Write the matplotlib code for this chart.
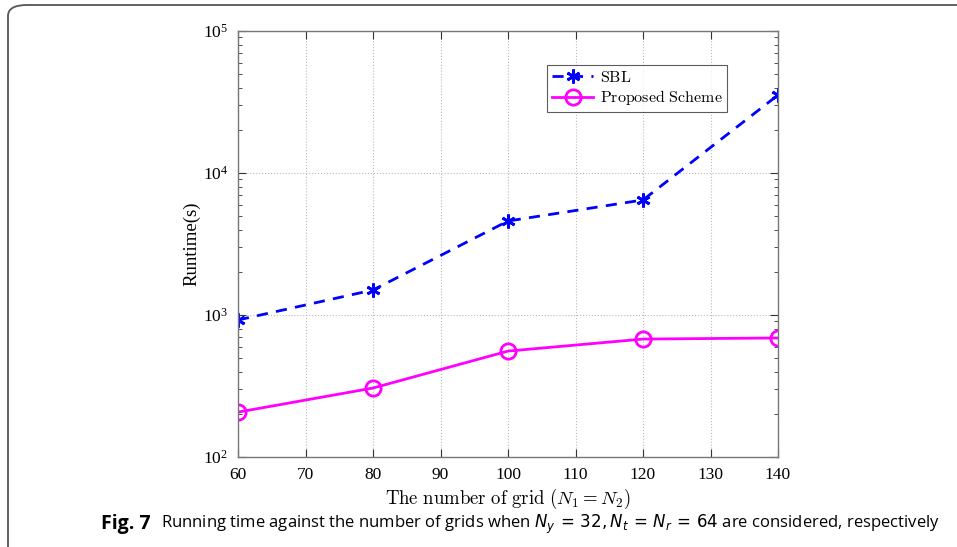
import matplotlib
matplotlib.use('Agg')
import matplotlib.pyplot as plt
import matplotlib.font_manager as fm
from matplotlib.patches import FancyBboxPatch
from matplotlib.ticker import LogLocator, NullFormatter

# 데이터
grid_sizes = [60, 80, 100, 120, 140]
runtime_sbl = [922, 1500, 4590, 6460, 35400]
runtime_proposed = [207, 306, 557, 677, 689]

plt.rcParams['font.family'] = ['Liberation Serif', 'DejaVu Serif']
plt.rcParams['mathtext.fontset'] = 'stix'

# 캡션용 좁은 산세리프 폰트
names = {f.name for f in fm.fontManager.ttflist}
if 'Liberation Sans Narrow' in names:
    cap_family, cap_size = ['Liberation Sans Narrow', 'DejaVu Sans'], 15
else:
    cap_family, cap_size = ['Open Sans', 'DejaVu Sans'], 12

fig = plt.figure(figsize=(9.57, 5.47), dpi=100)

# 둥근 외곽 프레임 (오른쪽/아래는 잘림)
frame = FancyBboxPatch((8 / 957, -20 / 547), 1.05, 1 - 5 / 547 + 20 / 547,
                       boxstyle='round,pad=0,rounding_size=0.02',
                       transform=fig.transFigure, fill=False,
                       edgecolor='#555555', linewidth=1.3, clip_on=False)
fig.patches.append(frame)

ax = fig.add_axes([238 / 957, 1 - 457 / 547, 540 / 957, 426 / 547])
ax.plot(grid_sizes, runtime_sbl, color='blue', linestyle='--', linewidth=2,
        dashes=(4, 3), marker=(6, 2, 0), markersize=10, markeredgewidth=2,
        label=r'$\mathrm{SBL}$')
ax.plot(grid_sizes, runtime_proposed, color='#FF00FF', linestyle='-', linewidth=2,
        marker='o', markersize=11, markerfacecolor='none', markeredgewidth=2,
        label=r'$\mathrm{Proposed\ Scheme}$')

ax.set_yscale('log')
ax.set_xlim(60, 140)
ax.set_ylim(1e2, 1e5)
ax.set_xticks(range(60, 141, 10))
ax.yaxis.set_major_locator(LogLocator(base=10, numticks=10))
ax.yaxis.set_minor_locator(LogLocator(base=10, subs=range(2, 10), numticks=20))
ax.yaxis.set_minor_formatter(NullFormatter())

ax.grid(True, which='major', linestyle=':', color='#bbbbbb', linewidth=0.8)
ax.tick_params(which='both', direction='in', top=True, right=True,
               labelsize=12.5, colors='#333333', labelcolor='black')
ax.tick_params(which='major', length=6)
ax.tick_params(which='minor', length=3)
ax.tick_params(axis='x', pad=7)
ax.tick_params(axis='y', pad=7)
for s in ax.spines.values():
    s.set_color('#777777')
    s.set_linewidth(1.0)

ax.set_xlabel(r'$\mathrm{The\ number\ of\ grid}\ (N_1 = N_2)$', fontsize=13.5,
              labelpad=3, math_fontfamily='cm')
ax.set_ylabel('Runtime(s)', fontsize=13.5, labelpad=2)

leg = ax.legend(loc='upper right', bbox_to_anchor=(0.906, 0.920), fontsize=11.5,
                frameon=True, fancybox=False, edgecolor='#333333',
                handlelength=2.6, borderpad=0.3, labelspacing=0.15,
                handletextpad=0.4, borderaxespad=0)
leg.get_frame().set_linewidth(0.8)
for t in leg.get_texts():
    t.set_math_fontfamily('cm')

# 캡션
cap_y = 1 - 524 / 547
fig.text(101 / 957, cap_y, 'Fig. 7', fontsize=cap_size + 2, fontweight='bold',
         family=cap_family, va='center', ha='left')
fig.text(161 / 957, cap_y,
         'Running time against the number of grids when $N_y\\,=\\,32, N_t\\,=\\,N_r\\,=\\,64$ are considered, respectively',
         fontsize=cap_size, family=cap_family, va='center', ha='left',
         math_fontfamily='dejavusans')

fig.savefig('out.png', dpi=100)
